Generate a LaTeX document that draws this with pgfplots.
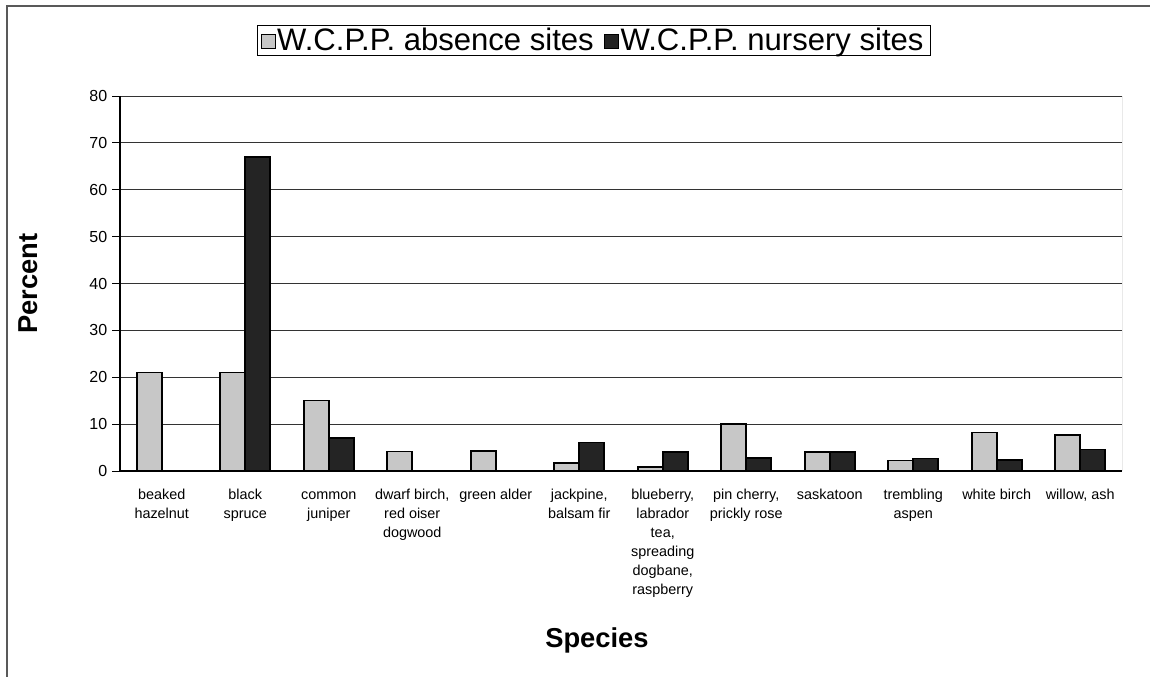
\documentclass[border=0pt]{standalone}
\usepackage{fontspec}
\setmainfont{Liberation Sans}
\usepackage{pgfplots}
\pgfplotsset{compat=1.18}
\definecolor{absfill}{gray}{0.78}
\definecolor{nurfill}{gray}{0.14}
\begin{document}
\begin{tikzpicture}
\path[use as bounding box] (0,0) rectangle (862.5pt,507.75pt);
\draw[black!65, line width=0.9pt] (5.25pt,0) -- (5.25pt,503.25pt) -- (862.5pt,503.25pt);
\begin{axis}[
  at={(90pt,154.5pt)}, anchor=south west,
  scale only axis, width=751.5pt, height=281.25pt,
  ybar=0pt, bar width=18.75pt,
  xmin=-0.5, xmax=11.5, ymin=0, ymax=80,
  axis lines=left, axis line style={-, black, line width=0.8pt},
  ytick={0,10,...,80},
  ymajorgrids, grid style={black!80, line width=0.6pt},
  tick align=outside,
  ytick style={black, line width=0.6pt}, major tick length=6pt,
  xtick={0,...,11},
  x tick style={draw=none},
  minor xtick={-0.5,0.5,...,11.5},
  minor x tick style={black, line width=0.6pt},
  minor tick length=5pt,
  xticklabels={{\strut beaked\\hazelnut},{\strut black\\spruce},{\strut common\\juniper},{\strut dwarf birch,\\red oiser\\dogwood},{\strut green alder},{\strut jackpine,\\balsam fir},{\strut blueberry,\\labrador\\tea,\\spreading\\dogbane,\\raspberry},{\strut pin cherry,\\prickly rose},{\strut saskatoon},{\strut trembling\\aspen},{\strut white birch},{\strut willow, ash}},
  xticklabel style={align=center, font=\fontsize{10.8}{14.2}\selectfont, yshift=-2pt},
  yticklabel style={font=\fontsize{12}{14}\selectfont},
  /pgf/number format/assume math mode=true,
  xlabel={Species}, ylabel={Percent},
  xlabel style={at={(axis description cs:0.476,-0.451)}, anchor=center, font=\fontsize{20.5}{24}\selectfont\bfseries},
  ylabel style={at={(axis description cs:-0.0918,0.5)}, anchor=center, rotate=0, font=\fontsize{20.5}{24}\selectfont\bfseries},
  legend columns=2,
  legend style={at={(axis description cs:0.4726,1.149)}, anchor=center, draw=black, line width=0.6pt,
    font=\fontsize{23.3}{26}\selectfont, inner xsep=3pt, inner ysep=0pt,
    /tikz/every even column/.append style={column sep=6pt},
    /tikz/every odd column/.append style={column sep=-1pt}},
]
\addplot[fill=absfill, draw=black, line width=1.2pt,
  legend image code/.code={\draw[fill=absfill, draw=black, line width=0.7pt] (0pt,-6pt) rectangle (10.5pt,4.5pt);}]
  coordinates {(0,21) (1,21) (2,15) (3,4.2) (4,4.3) (5,1.7) (6,0.8) (7,10) (8,4) (9,2.2) (10,8.2) (11,7.7)};
\addplot[fill=nurfill, draw=black, line width=1.2pt,
  legend image code/.code={\draw[fill=nurfill, draw=black, line width=0.7pt] (0pt,-6pt) rectangle (10.5pt,4.5pt);}]
  coordinates {(1,67) (2,7) (5,6.1) (6,4.1) (7,2.8) (8,4.1) (9,2.7) (10,2.4) (11,4.6)};
\legend{W.C.P.P. absence sites, W.C.P.P. nursery sites}
\draw[black!70, line width=0.6pt] (rel axis cs:1,0) -- (rel axis cs:1,1);
\end{axis}
\end{tikzpicture}
\end{document}
